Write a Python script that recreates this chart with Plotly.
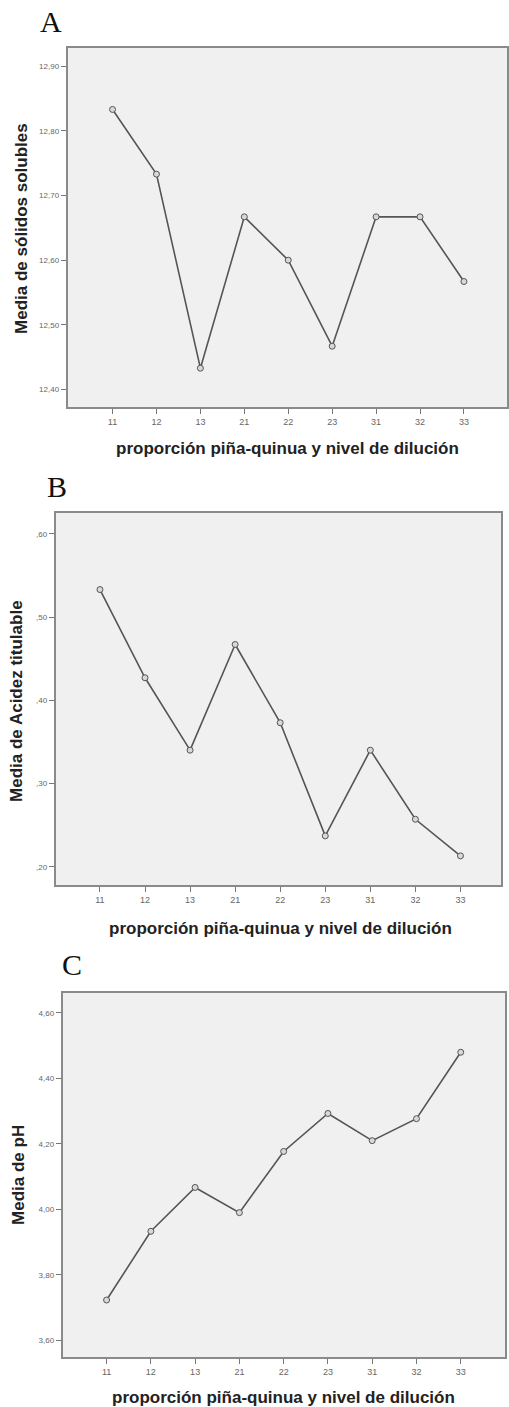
import plotly.graph_objects as go

W, H = 509, 1407

categories = ["11", "12", "13", "21", "22", "23", "31", "32", "33"]
solidos = [12.833, 12.733, 12.433, 12.667, 12.600, 12.467, 12.667, 12.667, 12.567]
acidez = [0.533, 0.427, 0.340, 0.467, 0.373, 0.237, 0.340, 0.257, 0.213]
ph = [3.723, 3.933, 4.067, 3.990, 4.177, 4.293, 4.210, 4.277, 4.480]

ticks_a = [12.40, 12.50, 12.60, 12.70, 12.80, 12.90]
ticktext_a = ["12,40", "12,50", "12,60", "12,70", "12,80", "12,90"]
ticks_b = [0.20, 0.30, 0.40, 0.50, 0.60]
ticktext_b = [",20", ",30", ",40", ",50", ",60"]
ticks_c = [3.60, 3.80, 4.00, 4.20, 4.40, 4.60]
ticktext_c = ["3,60", "3,80", "4,00", "4,20", "4,40", "4,60"]

panel_letters = ["A", "B", "C"]
y_titles = ["Media de sólidos solubles", "Media de Acidez titulable", "Media de pH"]
x_title = "proporción piña-quinua y nivel de dilución"

# panel boxes in pixels: left, top, right, bottom
boxes = [(68, 48, 509, 407), (56, 513, 503, 885), (63, 993, 507, 1357)]
yranges = [(12.373, 12.928), (0.178, 0.625), (3.549, 4.661)]
xranges = [(-1.02, 8.98), (-0.98, 8.9), (-0.99, 9.0)]
series = [solidos, acidez, ph]
ticks = [(ticks_a, ticktext_a), (ticks_b, ticktext_b), (ticks_c, ticktext_c)]

letter_pos = [(51, 21), (57, 486), (72, 964)]
ytitle_pos = [(22, 228), (17, 701), (18, 1175)]
xtitle_pos = [(289, 448), (282, 928), (285, 1397)]

fig = go.Figure()
annotations = []
for i in range(3):
    sfx = "" if i == 0 else str(i + 1)
    l, t, r, b = boxes[i]
    fig.add_trace(go.Scatter(
        x=categories, y=series[i], mode="lines+markers",
        xaxis="x" + sfx, yaxis="y" + sfx,
        line=dict(color="#555555", width=1.6),
        marker=dict(symbol="circle", size=6, color="#d8d8d8",
                    line=dict(color="#555555", width=1)),
        showlegend=False, hoverinfo="skip",
    ))
    common = dict(showline=True, linecolor="#8a8a8a", linewidth=2, mirror=True,
                  showgrid=False, zeroline=False, ticks="outside", ticklen=5,
                  tickcolor="#777777", tickwidth=1)
    fig.update_layout(**{
        "xaxis" + sfx: dict(domain=[l / W, r / W], anchor="y" + sfx, type="category",
                            range=list(xranges[i]),
                            tickfont=dict(family="Liberation Sans", size=9, color="#666666"),
                            **common),
        "yaxis" + sfx: dict(domain=[1 - b / H, 1 - t / H], anchor="x" + sfx,
                            range=list(yranges[i]), tickvals=ticks[i][0], ticktext=ticks[i][1],
                            tickfont=dict(family="Liberation Sans", size=8, color="#666666"),
                            **common),
    })
    lx, ly = letter_pos[i]
    annotations.append(dict(text=panel_letters[i], x=lx / W, y=1 - ly / H, xref="paper", yref="paper",
                            showarrow=False, xanchor="center", yanchor="middle",
                            font=dict(family="Liberation Serif", size=30, color="#111111")))
    yx, yy = ytitle_pos[i]
    annotations.append(dict(text="<b>" + y_titles[i] + "</b>", x=yx / W, y=1 - yy / H, xref="paper", yref="paper",
                            showarrow=False, textangle=-90, xanchor="center", yanchor="middle",
                            font=dict(family="Liberation Sans", size=17, color="#222222")))
    xx, xy = xtitle_pos[i]
    annotations.append(dict(text="<b>" + x_title + "</b>", x=xx / W, y=1 - xy / H, xref="paper", yref="paper",
                            showarrow=False, xanchor="center", yanchor="middle",
                            font=dict(family="Liberation Sans", size=17, color="#222222")))

fig.update_layout(width=W, height=H, margin=dict(l=0, r=0, t=0, b=0),
                  paper_bgcolor="white", plot_bgcolor="#f0f0f0",
                  annotations=annotations)
fig.write_html("out.html", config={"displayModeBar": False},
               post_script="document.body.style.margin='0';document.body.style.overflow='hidden';")
